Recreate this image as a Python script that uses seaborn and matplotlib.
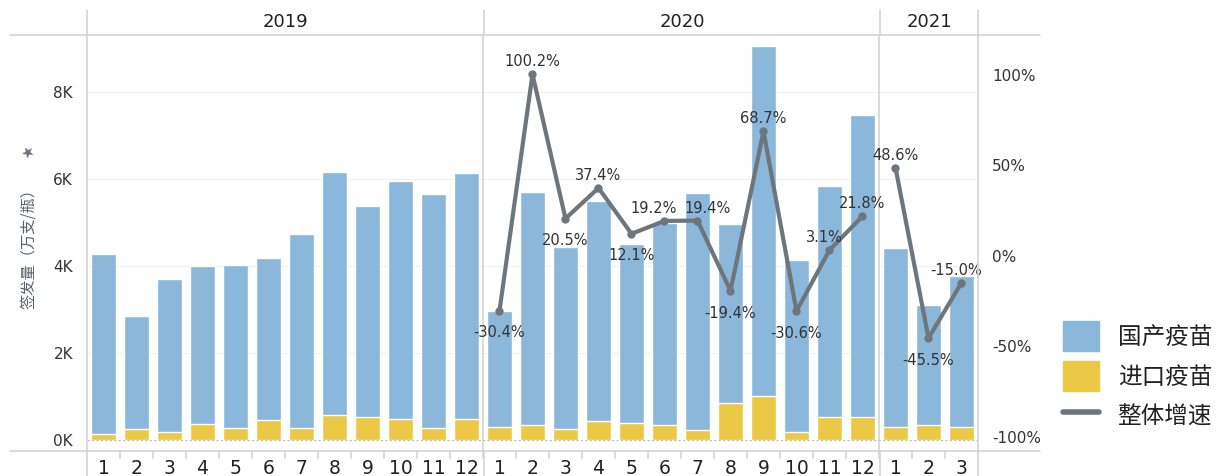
import matplotlib
matplotlib.use("Agg")
import matplotlib.pyplot as plt
import matplotlib.lines as mlines
import matplotlib.patches as mpatches
import numpy as np
import pandas as pd
import seaborn as sns

years = ["2019"] * 12 + ["2020"] * 12 + ["2021"] * 3
months = list(range(1, 13)) + list(range(1, 13)) + [1, 2, 3]
# totals (万支/瓶) and imported part
total = [4280, 2850, 3690, 3990, 4020, 4180, 4740, 6160, 5370, 5950, 5650, 6130,
         2970, 5690, 4440, 5490, 4510, 4980, 5680, 4960, 9060, 4140, 5840, 7480,
         4410, 3110, 3780]
imported = [130, 250, 190, 370, 280, 470, 280, 580, 530, 490, 280, 490,
            310, 340, 250, 440, 400, 340, 230, 850, 1010, 190, 530, 530,
            310, 340, 310]
growth_2020 = [-30.4, 100.2, 20.5, 37.4, 12.1, 19.2, 19.4, -19.4, 68.7, -30.6, 3.1, 21.8]
growth_2021 = [48.6, -45.5, -15.0]
legend_labels = ["国产疫苗", "进口疫苗", "整体增速"]

BLUE = "#8bb7da"
YELLOW = "#ebc946"
GRAY = "#6e767d"
EDGE = "#d4d4d4"

df = pd.DataFrame({"year": years, "month": months, "total": total, "imported": imported})
df["key"] = df["year"] + "-" + df["month"].astype(str)

growth = pd.DataFrame({
    "pos": list(range(12, 24)) + list(range(24, 27)),
    "rate": growth_2020 + growth_2021,
    "year": ["2020"] * 12 + ["2021"] * 3,
})

sns.set_style("white")
plt.rcParams["font.family"] = ["DejaVu Sans", "Noto Sans CJK SC"]

W, H = 1217, 476
fig = plt.figure(figsize=(W / 100, H / 100), dpi=100)
ax = fig.add_axes([87 / W, (H - 451) / H, (978 - 87) / W, (451 - 35) / H])

sns.barplot(data=df, x="key", y="total", color=BLUE, width=0.76, ax=ax,
            saturation=1, order=df["key"])
sns.barplot(data=df, x="key", y="imported", color=YELLOW, width=0.76, ax=ax,
            saturation=1, order=df["key"])

ax.set_ylim(-253, 9310)
ax.set_yticks([0, 2000, 4000, 6000, 8000])
ax.set_yticklabels(["0K", "2K", "4K", "6K", "8K"], fontsize=11, color="#333333")
ax.set_xticks(range(len(months)))
ax.set_xticklabels([str(m) for m in months], fontsize=13.5, color="#222222")
ax.tick_params(axis="both", length=0)
ax.tick_params(axis="x", pad=6)
ax.tick_params(axis="y", pad=10)
ax.set_xlabel("")
ax.set_ylabel("")
ax.set_xlim(-0.5, len(months) - 0.5)
for v in [2000, 4000, 6000, 8000]:
    ax.axhline(v, color="#f0f0f0", lw=0.8, zorder=0)
ax.axhline(0, color="#bbbbbb", lw=0.8, ls=(0, (2, 2)), zorder=3)
for s in ax.spines.values():
    s.set_visible(False)
for xb in [11.5, 23.5]:
    ax.axvline(xb, color=EDGE, lw=1.2)

ax2 = ax.twinx()
sns.lineplot(data=growth, x="pos", y="rate", hue="year", palette=[GRAY, GRAY],
             lw=3, marker="o", markersize=6, markeredgewidth=0, legend=False, ax=ax2)
ax2.set_ylim(-107.9, 121.9)
ax2.set_yticks([-100, -50, 0, 50, 100])
ax2.set_yticklabels(["-100%", "-50%", "0%", "50%", "100%"], fontsize=11, color="#333333")
ax2.tick_params(axis="y", length=0, pad=10)
ax2.set_xlabel("")
ax2.set_ylabel("")
for s in ax2.spines.values():
    s.set_visible(False)
ax2.set_xlim(-0.5, len(months) - 0.5)

# data labels: offset (dx, dy) in points
offsets = {12: (0, -16), 13: (0, 9), 14: (0, -16), 15: (0, 9), 16: (0, -16),
           17: (-8, 9), 18: (7, 9), 19: (0, -16), 20: (0, 9), 21: (0, -16),
           22: (-4, 9), 23: (0, 9), 24: (0, 9), 25: (0, -16), 26: (-4, 9)}
for p, r in zip(growth["pos"], growth["rate"]):
    dx, dy = offsets[p]
    ax2.annotate(f"{r:.1f}%", (p, r), xytext=(dx, dy), textcoords="offset points",
                 ha="center", va="center", fontsize=10.5, color="#333333")

# frame lines and year headers
def hline(y, x0=10, x1=1040):
    fig.add_artist(mlines.Line2D([x0 / W, x1 / W], [1 - y / H, 1 - y / H],
                                 color=EDGE, lw=1.2))

def vline(x, y0=10, y1=476):
    fig.add_artist(mlines.Line2D([x / W, x / W], [1 - y0 / H, 1 - y1 / H],
                                 color=EDGE, lw=1.2))

hline(35)
hline(451)
for x in [87, 978]:
    vline(x)
for x in [484, 880]:
    vline(x, 10, 35)
    vline(x, 451, 476)
for name, x0, x1 in [("2019", 87, 484), ("2020", 484, 880), ("2021", 880, 978)]:
    fig.text((x0 + x1) / 2 / W, 1 - 22 / H, name, ha="center", va="center",
             fontsize=13, color="#222222")
# faint separators between month labels
for i in range(1, len(months)):
    xp = 87 + i * (978 - 87) / len(months)
    vline(xp, 451, 458)

fig.text(28 / W, 1 - 245 / H, "签发量（万支/瓶）", rotation=90, ha="center", va="center",
         fontsize=11, color="#556270", family=["Noto Sans CJK SC", "DejaVu Sans"])
fig.text(28 / W, 1 - 153 / H, "\u2605", ha="center", va="center", fontsize=11,
         color="#6a737b", rotation=30)

handles = [mpatches.Patch(color=BLUE), mpatches.Patch(color=YELLOW),
           mlines.Line2D([], [], color=GRAY, lw=4)]
fig.legend(handles, legend_labels, loc="lower left",
           bbox_to_anchor=(1042 / W, 1 - 452 / H), frameon=False,
           prop={"family": ["Noto Sans CJK SC"], "size": 17},
           handlelength=1.5, handleheight=1.6, handletextpad=0.8, labelspacing=0.4,
           labelcolor="#222222")

fig.savefig("out.png", dpi=100)
